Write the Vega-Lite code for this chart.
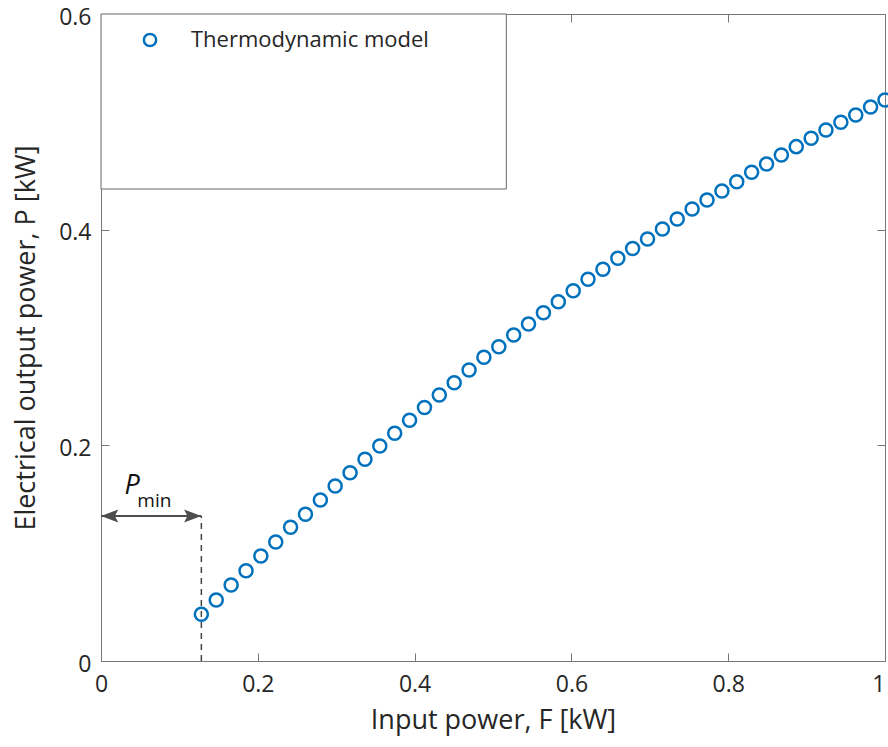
{
  "$schema": "https://vega.github.io/schema/vega-lite/v6.json",
  "width": 784,
  "height": 647,
  "autosize": "none",
  "padding": {"left": 101, "top": 14, "right": 3, "bottom": 86},
  "background": "white",
  "config": {"view": {"stroke": null}, "font": "Open Sans"},
  "datasets": {
    "model": [
      {"F": 0.128, "P": 0.0433}, {"F": 0.147, "P": 0.0566}, {"F": 0.166, "P": 0.0705},
      {"F": 0.185, "P": 0.0837}, {"F": 0.2039, "P": 0.0974}, {"F": 0.2229, "P": 0.1104},
      {"F": 0.2418, "P": 0.124}, {"F": 0.2608, "P": 0.136}, {"F": 0.2798, "P": 0.1493},
      {"F": 0.2987, "P": 0.1623}, {"F": 0.3177, "P": 0.1746}, {"F": 0.3367, "P": 0.187},
      {"F": 0.3556, "P": 0.1994}, {"F": 0.3746, "P": 0.2112}, {"F": 0.3936, "P": 0.2232},
      {"F": 0.4126, "P": 0.235}, {"F": 0.4315, "P": 0.2466}, {"F": 0.4505, "P": 0.2581},
      {"F": 0.4695, "P": 0.2699}, {"F": 0.4884, "P": 0.2816}, {"F": 0.5074, "P": 0.2915},
      {"F": 0.5264, "P": 0.3023}, {"F": 0.5453, "P": 0.3125}, {"F": 0.5643, "P": 0.323},
      {"F": 0.5833, "P": 0.3332}, {"F": 0.6023, "P": 0.3434}, {"F": 0.6212, "P": 0.354},
      {"F": 0.6402, "P": 0.3633}, {"F": 0.6592, "P": 0.3735}, {"F": 0.6781, "P": 0.3825},
      {"F": 0.6971, "P": 0.3914}, {"F": 0.7161, "P": 0.4006}, {"F": 0.735, "P": 0.4099},
      {"F": 0.754, "P": 0.4192}, {"F": 0.773, "P": 0.4275}, {"F": 0.792, "P": 0.4359},
      {"F": 0.8109, "P": 0.4445}, {"F": 0.8299, "P": 0.4532}, {"F": 0.8489, "P": 0.4609},
      {"F": 0.8678, "P": 0.4693}, {"F": 0.8868, "P": 0.477}, {"F": 0.9058, "P": 0.4847},
      {"F": 0.9247, "P": 0.4924}, {"F": 0.9437, "P": 0.4996}, {"F": 0.9627, "P": 0.5063},
      {"F": 0.9816, "P": 0.5138}, {"F": 1.0, "P": 0.5203}
    ],
    "box": [{"x1": 0, "x2": 0.517, "y1": 0.4377, "y2": 0.6}],
    "dash": [{"x": 0.128, "y1": 0, "y2": 0.1345}],
    "arrow": [{"x1": 0, "x2": 0.128, "y": 0.1345}],
    "heads": [{"x": 0, "y": 0.1345, "dir": "left"}, {"x": 0.128, "y": 0.1345, "dir": "right"}],
    "labP": [{"x": 0.0397, "y": 0.1625, "t": "P"}],
    "labMin": [{"x": 0.068, "y": 0.148, "t": "min"}]
  },
  "resolve": {"axis": {"x": "independent", "y": "independent"}},
  "layer": [
    {
      "data": {"name": "box"},
      "mark": {"type": "rect", "fill": "white", "stroke": "#666666", "strokeWidth": 1},
      "encoding": {
        "x": {"field": "x1", "type": "quantitative", "scale": {"domain": [0, 1], "nice": false}, "axis": null},
        "x2": {"field": "x2"},
        "y": {"field": "y1", "type": "quantitative", "scale": {"domain": [0, 0.6], "nice": false}, "axis": null},
        "y2": {"field": "y2"}
      }
    },
    {
      "data": {"name": "model"},
      "mark": {"type": "point", "filled": false, "strokeWidth": 2.5, "size": 170, "opacity": 1},
      "encoding": {
        "x": {
          "field": "F", "type": "quantitative",
          "scale": {"domain": [0, 1], "nice": false},
          "axis": {
            "orient": "bottom", "values": [0, 0.2, 0.4, 0.6, 0.8, 1], "format": "~g",
            "title": "Input power, F [kW]", "grid": false, "tickSize": -8,
            "domainColor": "#777777", "tickColor": "#777777", "labelColor": "#262626",
            "labelFontSize": 23, "labelPadding": 20, "titleFontSize": 27, "titleFontWeight": "normal",
            "titleColor": "#262626", "titlePadding": 11, "labelFlush": false,
            "labelAlign": {"condition": {"test": "datum.value === 1", "value": "right"}, "value": "center"}
          }
        },
        "y": {
          "field": "P", "type": "quantitative",
          "scale": {"domain": [0, 0.6], "nice": false},
          "axis": {
            "orient": "left", "values": [0, 0.2, 0.4, 0.6], "format": "~g",
            "title": "Electrical output power, P [kW]", "grid": false, "tickSize": -8,
            "domainColor": "#777777", "tickColor": "#777777", "labelColor": "#262626",
            "labelFontSize": 23, "labelPadding": 18, "labelOffset": 3, "titleFontSize": 27, "titleFontWeight": "normal",
            "titleColor": "#262626", "titlePadding": 18, "labelFlush": false
          }
        },
        "color": {
          "datum": "Thermodynamic model", "type": "nominal",
          "scale": {"range": ["#0072BD"]},
          "legend": {
            "orient": "none", "legendX": 38, "legendY": 15, "title": null,
            "labelFontSize": 22, "labelColor": "#262626", "labelLimit": 500, "symbolSize": 150,
            "symbolStrokeWidth": 2.5, "symbolType": "circle", "symbolFillColor": "transparent",
            "labelOffset": 30
          }
        }
      }
    },
    {
      "data": {"name": "dash"},
      "mark": {"type": "rule", "color": "#444444", "strokeWidth": 1.5, "strokeDash": [6, 5]},
      "encoding": {
        "x": {
          "field": "x", "type": "quantitative", "scale": {"domain": [0, 1], "nice": false},
          "axis": {"orient": "top", "values": [0, 0.2, 0.4, 0.6, 0.8, 1], "labels": false, "title": null,
                   "grid": false, "tickSize": -8, "domainColor": "#777777", "tickColor": "#777777"}
        },
        "y": {
          "field": "y1", "type": "quantitative", "scale": {"domain": [0, 0.6], "nice": false},
          "axis": {"orient": "right", "values": [0, 0.2, 0.4, 0.6], "labels": false, "title": null,
                   "grid": false, "tickSize": -8, "domainColor": "#777777", "tickColor": "#777777"}
        },
        "y2": {"field": "y2"}
      }
    },
    {
      "data": {"name": "arrow"},
      "mark": {"type": "rule", "color": "#4d4d4d", "strokeWidth": 2},
      "encoding": {
        "x": {"field": "x1", "type": "quantitative", "scale": {"domain": [0, 1], "nice": false}, "axis": null},
        "x2": {"field": "x2"},
        "y": {"field": "y", "type": "quantitative", "scale": {"domain": [0, 0.6], "nice": false}, "axis": null}
      }
    },
    {
      "data": {"name": "heads"},
      "mark": {"type": "point", "filled": true, "color": "#4d4d4d", "size": 300, "opacity": 1, "strokeWidth": 0},
      "encoding": {
        "x": {"field": "x", "type": "quantitative", "scale": {"domain": [0, 1], "nice": false}, "axis": null},
        "y": {"field": "y", "type": "quantitative", "scale": {"domain": [0, 0.6], "nice": false}, "axis": null},
        "shape": {
          "field": "dir", "type": "nominal",
          "scale": {"domain": ["left", "right"], "range": ["M0,0 L2,-0.75 L1.6,0 L2,0.75 Z", "M0,0 L-2,-0.75 L-1.6,0 L-2,0.75 Z"]},
          "legend": null
        }
      }
    },
    {
      "data": {"name": "labP"},
      "mark": {"type": "text", "fontSize": 27, "fontStyle": "italic", "color": "#111111", "align": "center", "baseline": "middle"},
      "encoding": {
        "x": {"field": "x", "type": "quantitative", "scale": {"domain": [0, 1], "nice": false}, "axis": null},
        "y": {"field": "y", "type": "quantitative", "scale": {"domain": [0, 0.6], "nice": false}, "axis": null},
        "text": {"field": "t"}
      }
    },
    {
      "data": {"name": "labMin"},
      "mark": {"type": "text", "fontSize": 19, "color": "#111111", "align": "center", "baseline": "middle"},
      "encoding": {
        "x": {"field": "x", "type": "quantitative", "scale": {"domain": [0, 1], "nice": false}, "axis": null},
        "y": {"field": "y", "type": "quantitative", "scale": {"domain": [0, 0.6], "nice": false}, "axis": null},
        "text": {"field": "t"}
      }
    }
  ]
}
